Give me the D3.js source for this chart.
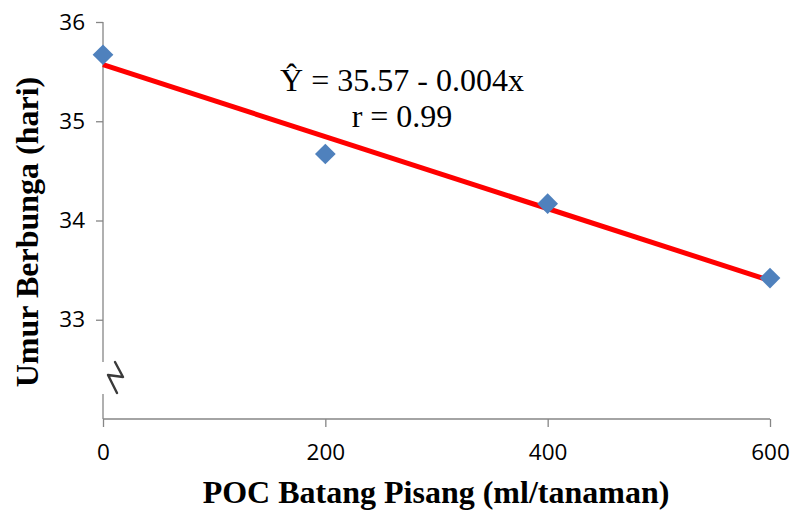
<!DOCTYPE html>
<html>
<head>
<meta charset="utf-8">
<script src="https://cdn.jsdelivr.net/npm/d3@7"></script>
<style>
  html, body { margin: 0; padding: 0; background: #fff; }
  svg { display: block; }
</style>
</head>
<body>
<svg id="chart" width="794" height="512"></svg>
<script>
// POC dose (ml/tanaman) and days to flowering
const doses = [0, 200, 400, 600];
const daysToFlower = [35.67, 34.67, 34.17, 33.42];
const xTicks = [0, 200, 400, 600];
const yTicks = [33, 34, 35, 36];
const xTitle = "POC Batang Pisang (ml/tanaman)";
const yTitle = "Umur Berbunga (hari)";

const svg = d3.select("#chart");
const W = 794, H = 512;
svg.append("rect").attr("width", W).attr("height", H).attr("fill", "#fff");

const x = d3.scaleLinear().domain([0, 600]).range([103, 770]);
const y = d3.scaleLinear().domain([32, 36]).range([419, 22]);

const axisColor = "#868686";
const tickFont = "'Open Sans', 'Liberation Sans', sans-serif";
const serif = "'Liberation Serif', 'Times New Roman', serif";

// least-squares fit
const mx = d3.mean(doses), my = d3.mean(daysToFlower);
let sxy = 0, sxx = 0, syy = 0;
doses.forEach((d, i) => {
  sxy += (d - mx) * (daysToFlower[i] - my);
  sxx += (d - mx) ** 2;
  syy += (daysToFlower[i] - my) ** 2;
});
const slope = sxy / sxx;
const intercept = my - slope * mx;
const r = sxy / Math.sqrt(sxx * syy);

// y axis
const yAxis = d3.axisLeft(y).tickValues(yTicks).tickSize(7).tickPadding(11).tickFormat(d3.format("d"));
const gy = svg.append("g").attr("transform", `translate(${x(0)},0)`).call(yAxis);
gy.select(".domain").attr("stroke", axisColor).attr("stroke-width", 1.3).attr("d", `M0,${y(36)}V${y(32)}`);
gy.selectAll(".tick line").attr("stroke", axisColor).attr("stroke-width", 1.3);
gy.selectAll(".tick text").attr("font-family", tickFont).attr("font-size", 22.5).attr("fill", "#000");

// x axis
const xAxis = d3.axisBottom(x).tickValues(xTicks).tickSize(8).tickPadding(17).tickFormat(d3.format("d"));
const gx = svg.append("g").attr("transform", `translate(0,${y(32)})`).call(xAxis);
gx.select(".domain").attr("stroke", axisColor).attr("stroke-width", 1.3).attr("d", `M${x(0)},0H${x(600)}`);
gx.selectAll(".tick line").attr("stroke", axisColor).attr("stroke-width", 1.3);
gx.selectAll(".tick text").attr("font-family", tickFont).attr("font-size", 22.5).attr("fill", "#000");

// axis break on the y axis
const bx = x(0);
svg.append("rect").attr("x", bx - 26).attr("y", 362).attr("width", 50).attr("height", 32).attr("fill", "#fff");
svg.append("path")
  .attr("d", `M${bx + 12},362 L${bx + 20},377 L${bx + 5},375 L${bx + 14},393`)
  .attr("fill", "none").attr("stroke", "#3a3a3a").attr("stroke-width", 2.4)
  .attr("stroke-linejoin", "round").attr("stroke-linecap", "round");

// regression line
const lineData = [0, 600].map(d => [d, intercept + slope * d]);
svg.append("path")
  .datum(lineData)
  .attr("d", d3.line().x(d => x(d[0])).y(d => y(d[1])))
  .attr("fill", "none").attr("stroke", "#ff0000").attr("stroke-width", 5);

// data markers (diamonds)
svg.append("g").selectAll("path")
  .data(doses.map((d, i) => [d, daysToFlower[i]]))
  .join("path")
  .attr("d", d3.symbol().type(d3.symbolSquare).size(215))
  .attr("transform", d => `translate(${x(d[0])},${y(d[1])}) rotate(45)`)
  .attr("fill", "#4f81bd");

// equation
const eq = svg.append("g").attr("font-family", serif).attr("font-size", 32).attr("fill", "#000").attr("text-anchor", "middle");
eq.append("text").attr("x", 402).attr("y", 91)
  .text(`Ŷ = ${intercept.toFixed(2)} - ${Math.abs(slope).toFixed(3)}x`);
eq.append("text").attr("x", 402).attr("y", 127)
  .text(`r = ${Math.abs(r).toFixed(2)}`);

// axis titles
svg.append("text").attr("x", 436).attr("y", 503).attr("text-anchor", "middle")
  .attr("font-family", serif).attr("font-weight", "bold").attr("font-size", 32).attr("fill", "#000")
  .text(xTitle);
svg.append("text").attr("transform", "translate(38,232) rotate(-90)").attr("text-anchor", "middle")
  .attr("font-family", serif).attr("font-weight", "bold").attr("font-size", 32).attr("fill", "#000")
  .text(yTitle);
</script>
</body>
</html>
